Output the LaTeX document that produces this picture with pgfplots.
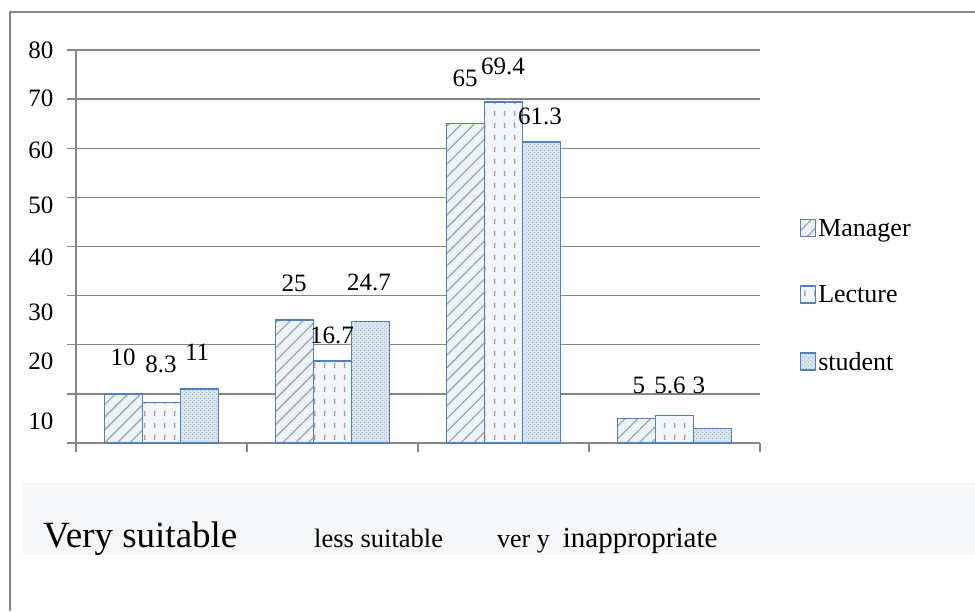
\documentclass[border=0pt]{standalone}
\usepackage{fontspec}
\setmainfont{Liberation Serif}
\usepackage{pgfplots}
\pgfplotsset{compat=1.18}
\usetikzlibrary{patterns.meta}
\definecolor{barblue}{RGB}{79,129,189}
\definecolor{axgray}{RGB}{134,134,134}
\definecolor{bandgray}{RGB}{246,247,249}
\definecolor{mgrfill}{RGB}{236,243,251}
\definecolor{lecfill}{RGB}{243,247,252}
\definecolor{stufill}{RGB}{218,229,242}
\tikzdeclarepattern{name=vdash, type=uncolored,
  bounding box={(0pt,0pt) and (10pt,12pt)}, tile size={(10pt,12pt)},
  code={\draw[line width=1.6pt] (5pt,3pt) -- (5pt,9pt);}}
\tikzdeclarepattern{name=finedots, type=uncolored,
  bounding box={(0pt,0pt) and (4pt,4pt)}, tile size={(4pt,4pt)},
  code={\fill (1pt,1pt) circle (0.8pt); \fill (3pt,3pt) circle (0.6pt);}}
\begin{document}
\begin{tikzpicture}[x=1pt,y=1pt]
\useasboundingbox (0,0) rectangle (975,611);
\fill[bandgray] (23,56) rectangle (975,128);
\draw[axgray, line width=1.5pt] (10,0) -- (10,599) -- (975,599);
\node[anchor=base west, inner sep=0pt, font=\fontsize{37}{40}\selectfont] at (43,64) {Very suitable};
\node[anchor=base west, inner sep=0pt, font=\fontsize{26.5}{30}\selectfont] at (314,64) {less suitable};
\node[anchor=base west, inner sep=0pt] at (497,64) {{\fontsize{26}{30}\selectfont ver y}\hspace{13pt}{\fontsize{29}{32}\selectfont inappropriate}};
\begin{axis}[
  at={(76pt,168pt)}, anchor=south west, scale only axis,
  width=684pt, height=393pt,
  xmin=-0.5, xmax=3.5, ymin=0, ymax=80,
  axis x line*=bottom, axis y line*=left,
  axis line style={axgray, line width=1.4pt, -},
  xtick={-0.5,0.5,1.5,2.5,3.5}, xticklabels={},
  ytick={0,10,...,80}, yticklabels={},
  tick align=outside, major tick length=9pt,
  tick style={axgray, line width=1.4pt},
  ymajorgrids, major grid style={axgray, line width=1.4pt},
  extra y ticks={4.5,16.7,26.7,37.7,48.4,59.6,70.2,80},
  extra y tick labels={10,20,30,40,50,60,70,80},
  extra y tick style={major tick length=0pt, grid=none, yticklabel style={anchor=east, xshift=-19pt}},
  /pgf/number format/assume math mode=true,
  tick label style={font=\fontsize{25}{30}\selectfont},
  clip=false,
  legend style={at={(1.058,0.575)}, anchor=north west, draw=none, fill=none,
    font=\fontsize{26}{30}\selectfont, row sep=44pt, inner sep=0pt,
    nodes={inner sep=2pt}},
  legend cell align=left,
  legend image code/.code={\draw[#1] (0pt,-8pt) rectangle (15pt,9pt);},
]
\addplot[ybar, bar width=38pt, bar shift=-38pt, draw=barblue, line width=1.4pt,
  fill=mgrfill, postaction={pattern={Lines[angle=45,distance=9pt,line width=1.3pt]}, pattern color=gray!70}]
  coordinates {(0,10) (1,25) (2,65) (3,5)};
\addlegendentry{Manager}
\addplot[ybar, bar width=38pt, bar shift=0pt, draw=barblue, line width=1.4pt,
  fill=lecfill, postaction={pattern=vdash, pattern color=gray!70}]
  coordinates {(0,8.3) (1,16.7) (2,69.4) (3,5.6)};
\addlegendentry{Lecture}
\addplot[ybar, bar width=38pt, bar shift=38pt, draw=barblue, line width=1.4pt,
  fill=stufill, postaction={pattern=finedots, pattern color=barblue!45!gray!60}]
  coordinates {(0,11) (1,24.7) (2,61.3) (3,3)};
\addlegendentry{student}
\begin{scope}[every node/.style={inner sep=0pt, font=\fontsize{25}{30}\selectfont}]
\node at (axis cs:-0.225,17.5) {10};
\node at (axis cs:-0.003,16.1) {8.3};
\node at (axis cs:0.208,18.5) {11};
\node at (axis cs:0.775,32.6) {25};
\node at (axis cs:0.997,22.0) {16.7};
\node at (axis cs:1.213,32.6) {24.7};
\node at (axis cs:1.775,74.3) {65};
\node at (axis cs:1.997,76.7) {69.4};
\node at (axis cs:2.213,66.4) {61.3};
\node at (axis cs:2.792,11.8) {5};
\node at (axis cs:2.974,11.8) {5.6};
\node at (axis cs:3.143,11.8) {3};
\end{scope}
\end{axis}
\end{tikzpicture}
\end{document}
